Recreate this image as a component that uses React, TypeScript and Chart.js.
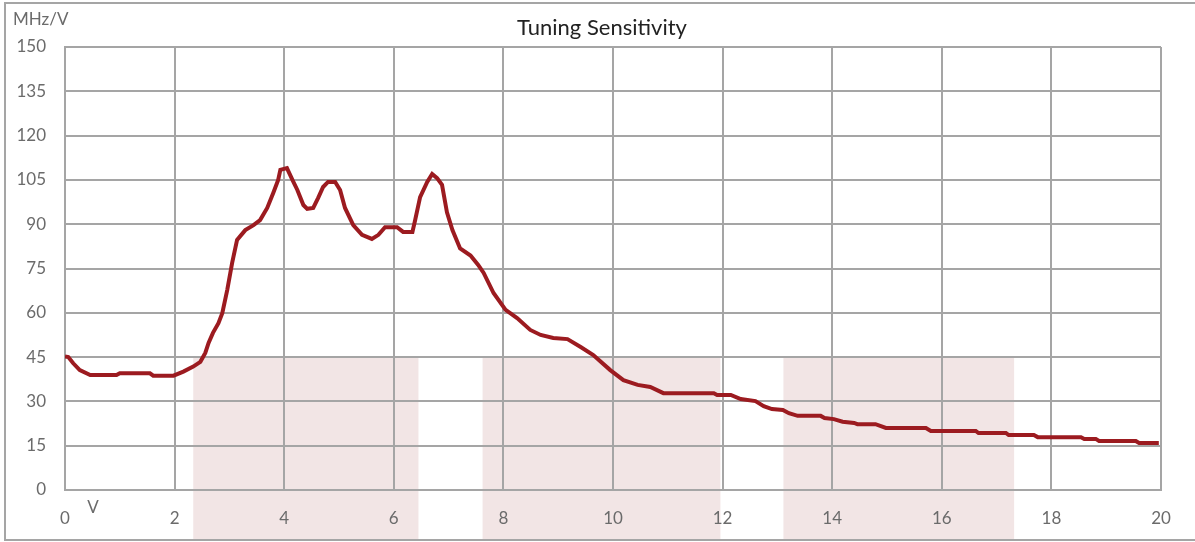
import React, { useEffect, useRef } from "react";
import { Chart, registerables } from "chart.js";

Chart.register(...registerables);

const voltage = [
  0.0, 0.06, 0.15, 0.27, 0.46, 0.94, 1.0, 1.55, 1.61, 1.98, 2.16, 2.34, 2.47, 2.56, 2.62, 2.7, 2.8, 2.87,
  2.96, 3.05, 3.14, 3.29, 3.44, 3.56, 3.69, 3.8, 3.89, 3.93, 4.05, 4.15, 4.24, 4.35, 4.42, 4.53, 4.62, 4.71,
  4.8, 4.93, 5.02, 5.11, 5.26, 5.42, 5.6, 5.72, 5.84, 6.06, 6.17, 6.34, 6.39, 6.48, 6.61, 6.7, 6.79, 6.88,
  6.97, 7.07, 7.21, 7.4, 7.54, 7.64, 7.82, 8.04, 8.25, 8.49, 8.68, 8.91, 9.17, 9.41, 9.64, 9.95, 10.19,
  10.45, 10.68, 10.92, 11.84, 11.9, 12.15, 12.33, 12.6, 12.75, 12.9, 13.1, 13.21, 13.37, 13.79, 13.86,
  14.03, 14.19, 14.4, 14.46, 14.79, 14.98, 15.71, 15.8, 16.62, 16.67, 17.17, 17.22, 17.68, 17.75, 18.54,
  18.6, 18.81, 18.87, 19.54, 19.6, 19.96,
];

const sensitivity = [
  45.2, 45.0, 42.9, 40.6, 38.9, 38.9, 39.5, 39.5, 38.7, 38.7, 40.1, 41.8, 43.4, 46.4, 49.8, 53.2, 56.5, 59.9,
  67.7, 76.9, 84.7, 88.0, 89.7, 91.4, 95.5, 100.6, 105.0, 108.4, 109.0, 105.0, 101.6, 96.5, 95.2, 95.5, 98.9,
  102.6, 104.3, 104.3, 101.6, 95.5, 89.7, 86.4, 85.0, 86.4, 89.0, 89.0, 87.4, 87.4, 91.4, 99.2, 104.3, 107.0,
  105.6, 103.3, 94.0, 88.0, 81.8, 79.4, 76.2, 73.5, 66.7, 61.0, 58.2, 54.2, 52.5, 51.5, 51.1, 48.4, 45.7,
  40.6, 37.2, 35.6, 34.9, 32.8, 32.8, 32.2, 32.2, 30.8, 30.1, 28.4, 27.4, 27.1, 26.0, 25.1, 25.1, 24.4,
  24.0, 23.1, 22.7, 22.3, 22.3, 21.0, 21.0, 20.0, 20.0, 19.3, 19.3, 18.6, 18.6, 17.9, 17.9, 17.3, 17.3,
  16.6, 16.6, 15.9, 15.9,
];

const bandStarts = [2.34, 7.62, 13.11];
const bandEnds = [6.45, 11.96, 17.32];
const bandTop = 45;

const titleText = "Tuning Sensitivity";
const yUnit = "MHz/V";
const xUnit = "V";

const FONT = "Lato, 'Open Sans', 'Liberation Sans', sans-serif";
const TICK_COLOR = "#6b6b6b";
const GRID_COLOR = "#a5a5a5";

export default function App() {
  const ref = useRef<HTMLCanvasElement | null>(null);

  useEffect(() => {
    if (!ref.current) return;

    const bandsPlugin = {
      id: "bands",
      beforeDraw(chart: any) {
        const { ctx, scales } = chart;
        const xs = scales.x;
        const ys = scales.y;
        ctx.save();
        ctx.fillStyle = "#f2e5e5";
        const top = ys.getPixelForValue(bandTop);
        const bottom = 540;
        for (let i = 0; i < bandStarts.length; i++) {
          const l = xs.getPixelForValue(bandStarts[i]);
          const r = xs.getPixelForValue(bandEnds[i]);
          ctx.fillRect(l, top, r - l, bottom - top);
        }
        ctx.restore();
      },
      afterDraw(chart: any) {
        const { ctx, scales } = chart;
        ctx.save();
        ctx.strokeStyle = GRID_COLOR;
        ctx.lineWidth = 2;
        ctx.strokeRect(5, 3, 1200, 537);
        ctx.fillStyle = "#222";
        ctx.font = `22px ${FONT}`;
        ctx.textAlign = "center";
        ctx.textBaseline = "middle";
        ctx.fillText(titleText, 602, 28);
        ctx.fillStyle = TICK_COLOR;
        ctx.font = `17px ${FONT}`;
        ctx.textAlign = "left";
        ctx.fillText(yUnit, 13, 20);
        ctx.textAlign = "center";
        ctx.fillText(xUnit, 93, scales.x.bottom - 34);
        ctx.restore();
      },
    };

    const chart = new Chart(ref.current, {
      type: "line",
      data: {
        datasets: [
          {
            data: voltage.map((v, i) => ({ x: v, y: sensitivity[i] })),
            borderColor: "#9c1b20",
            borderWidth: 4,
            pointRadius: 0,
            tension: 0,
            fill: false,
          },
        ],
      },
      options: {
        responsive: false,
        animation: false,
        layout: { padding: { top: 47, right: 34, left: 0, bottom: 0 } },
        plugins: {
          legend: { display: false },
          title: { display: false },
          tooltip: { enabled: false },
        },
        scales: {
          x: {
            type: "linear",
            min: 0,
            max: 20,
            afterFit(scale: any) {
              scale.height = 52;
            },
            ticks: {
              stepSize: 2,
              color: TICK_COLOR,
              font: { family: FONT, size: 17 },
              padding: 18,
              maxRotation: 0,
            },
            grid: { color: GRID_COLOR, lineWidth: 2, drawTicks: false },
            border: { color: GRID_COLOR, width: 2 },
          },
          y: {
            min: 0,
            max: 150,
            afterFit(scale: any) {
              scale.width = 65;
            },
            ticks: {
              stepSize: 15,
              color: TICK_COLOR,
              font: { family: FONT, size: 17 },
              padding: 19,
            },
            grid: { color: GRID_COLOR, lineWidth: 2, drawTicks: false },
            border: { color: GRID_COLOR, width: 2 },
          },
        },
      },
      plugins: [bandsPlugin],
    });

    return () => chart.destroy();
  }, []);

  return (
    <div style={{ position: "absolute", left: 0, top: 0, width: 1195, height: 542, background: "#fff" }}>
      <canvas ref={ref} width={1195} height={542} />
    </div>
  );
}
